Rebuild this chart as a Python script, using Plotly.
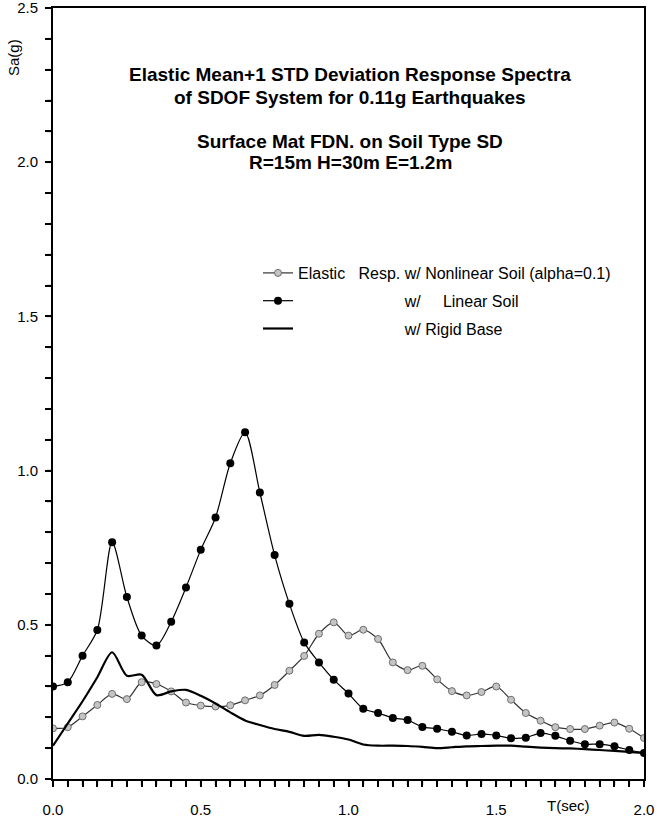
import plotly.graph_objects as go

# ---- data ----
T = [round(i * 0.05, 2) for i in range(41)]

sa_nonlinear = [0.164, 0.168, 0.203, 0.240, 0.276, 0.259, 0.314, 0.308, 0.284, 0.248,
                0.238, 0.235, 0.239, 0.255, 0.271, 0.305, 0.351, 0.399, 0.471, 0.508,
                0.465, 0.484, 0.454, 0.378, 0.353, 0.367, 0.323, 0.285, 0.271, 0.282,
                0.300, 0.257, 0.214, 0.189, 0.168, 0.162, 0.162, 0.173, 0.183, 0.163,
                0.133]

sa_linear = [0.300, 0.314, 0.400, 0.483, 0.768, 0.590, 0.465, 0.433, 0.510, 0.621,
             0.743, 0.848, 1.024, 1.124, 0.929, 0.726, 0.568, 0.443, 0.378, 0.322,
             0.277, 0.228, 0.214, 0.198, 0.191, 0.169, 0.163, 0.153, 0.141, 0.146,
             0.141, 0.132, 0.134, 0.149, 0.140, 0.124, 0.113, 0.113, 0.106, 0.094,
             0.084]

sa_rigid = [0.108, 0.180, 0.252, 0.330, 0.411, 0.335, 0.338, 0.272, 0.284, 0.289,
            0.270, 0.245, 0.216, 0.190, 0.175, 0.162, 0.153, 0.140, 0.143, 0.137,
            0.128, 0.112, 0.108, 0.108, 0.107, 0.104, 0.100, 0.103, 0.106, 0.107,
            0.108, 0.108, 0.105, 0.102, 0.100, 0.099, 0.097, 0.094, 0.091, 0.088,
            0.084]

# tick positions (every 0.05 s / 0.1 g) and their labels (only at multiples of 0.5)
x_tickvals = [round(i * 0.05, 2) for i in range(41)]
x_ticktext = [f"{v:.1f}" if i % 10 == 0 else "" for i, v in enumerate(x_tickvals)]
y_tickvals = [round(i * 0.1, 1) for i in range(26)]
y_ticktext = [f"{v:.1f}" if i % 5 == 0 else "" for i, v in enumerate(y_tickvals)]

X_RANGE = [0, 2.0]
Y_RANGE = [0, 2.5]

NB = "\u00a0"
name_nonlinear = "Elastic" + NB * 3 + "Resp. w/ Nonlinear Soil (alpha=0.1)"
name_linear = NB * 24 + "w/" + NB * 5 + "Linear Soil"
name_rigid = NB * 24 + "w/ Rigid Base"

title_lines = ["Elastic Mean+1 STD Deviation Response Spectra",
               "of SDOF System for 0.11g Earthquakes",
               "Surface Mat FDN. on Soil Type SD",
               "R=15m H=30m E=1.2m"]

FONT = "Liberation Sans, Arial, sans-serif"

PLOT_W, PLOT_H = 591, 771
TICK_LEN = 6

fig = go.Figure()
fig.add_trace(go.Scatter(
    x=T, y=sa_nonlinear, mode="lines+markers", name=name_nonlinear,
    line=dict(color="#333333", width=1.2, shape="spline", smoothing=0.8),
    marker=dict(symbol="circle", size=7, color="#c4c4c4",
                line=dict(color="#6e6e6e", width=1)),
    legendgroup="a"))
fig.add_trace(go.Scatter(
    x=T, y=sa_linear, mode="lines+markers", name=name_linear,
    line=dict(color="black", width=1.2, shape="spline", smoothing=0.8),
    marker=dict(symbol="circle", size=8, color="black"),
    legendgroup="b"))
fig.add_trace(go.Scatter(
    x=T, y=sa_rigid, mode="lines", name=name_rigid,
    line=dict(color="black", width=2.2, shape="spline", smoothing=0.8),
    legendgroup="c"))

annotations = []
title_y = [74, 97, 141, 163]
for txt, py in zip(title_lines, title_y):
    annotations.append(dict(
        text="<b>" + txt + "</b>", xref="paper", yref="paper",
        x=(350 - 53) / PLOT_W, y=1 - (py - 8) / PLOT_H, showarrow=False,
        xanchor="center", yanchor="middle",
        font=dict(family=FONT, size=19, color="black")))
annotations.append(dict(
    text="Sa(g)", xref="paper", yref="paper", x=(14 - 53) / PLOT_W, y=1 - (58 - 8) / PLOT_H,
    textangle=-90, showarrow=False, xanchor="center", yanchor="middle",
    font=dict(family=FONT, size=15, color="black")))
annotations.append(dict(
    text="T(sec)", xref="x", yref="paper", x=1.745, y=-(805 - 779) / PLOT_H,
    showarrow=False, xanchor="center", yanchor="middle",
    font=dict(family=FONT, size=15, color="black")))

# outward tick marks derived from the tick arrays (paper coords, not clipped)
shapes = []
for v in x_tickvals:
    xp = (v - X_RANGE[0]) / (X_RANGE[1] - X_RANGE[0])
    shapes.append(dict(type="line", xref="paper", yref="paper",
                       x0=xp, x1=xp, y0=0, y1=-TICK_LEN / PLOT_H,
                       line=dict(color="black", width=2)))
for v in y_tickvals:
    yp = (v - Y_RANGE[0]) / (Y_RANGE[1] - Y_RANGE[0])
    shapes.append(dict(type="line", xref="paper", yref="paper",
                       x0=0, x1=-TICK_LEN / PLOT_W, y0=yp, y1=yp,
                       line=dict(color="black", width=2)))

fig.update_layout(
    template="simple_white",
    width=670, height=818,
    margin=dict(l=53, r=26, t=8, b=39),
    paper_bgcolor="white", plot_bgcolor="white",
    font=dict(family=FONT, size=15, color="black"),
    showlegend=True,
    legend=dict(x=(258 - 53) / PLOT_W, y=1 - (256 - 8) / PLOT_H,
                xanchor="left", yanchor="top",
                bgcolor="rgba(0,0,0,0)", borderwidth=0,
                itemwidth=30, tracegroupgap=4,
                font=dict(family=FONT, size=16, color="black")),
    annotations=annotations,
    shapes=shapes,
)

fig.update_xaxes(
    range=X_RANGE, tickmode="array", tickvals=x_tickvals, ticktext=x_ticktext,
    showgrid=False, zeroline=False, automargin=False,
    showline=True, linecolor="black", linewidth=2, mirror=True,
    ticks="outside", ticklen=TICK_LEN, tickwidth=2, tickcolor="black",
    ticklabelstandoff=10, ticklabeloverflow="allow",
    tickfont=dict(family=FONT, size=15, color="black"),
)
fig.update_yaxes(
    range=Y_RANGE, tickmode="array", tickvals=y_tickvals, ticktext=y_ticktext,
    showgrid=False, zeroline=False, automargin=False,
    showline=True, linecolor="black", linewidth=2, mirror=True,
    ticks="outside", ticklen=TICK_LEN, tickwidth=2, tickcolor="black",
    ticklabelstandoff=4, ticklabeloverflow="allow",
    tickfont=dict(family=FONT, size=15, color="black"),
)

fig.write_html(
    "out.html",
    config={"displayModeBar": False},
    post_script="document.documentElement.style.margin='0';"
                "document.body.style.margin='0';document.body.style.padding='0';"
                "document.body.style.overflow='hidden';",
)
